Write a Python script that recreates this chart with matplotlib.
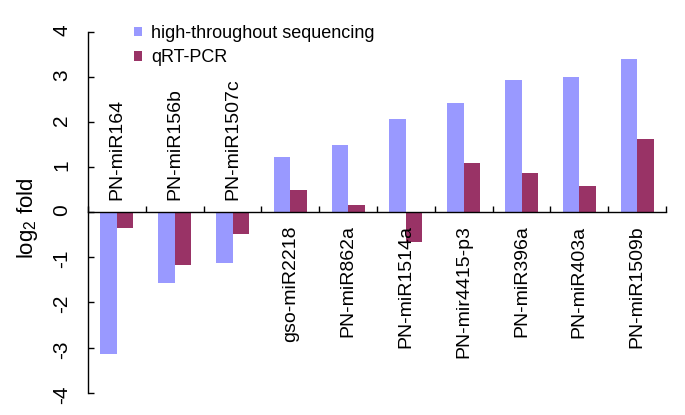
import matplotlib
matplotlib.use("Agg")
import matplotlib.pyplot as plt
import numpy as np

plt.rcParams['font.family'] = ['Liberation Sans', 'DejaVu Sans']
plt.rcParams['mathtext.fontset'] = 'custom'
plt.rcParams['mathtext.rm'] = 'Liberation Sans'
plt.rcParams['mathtext.default'] = 'regular'

mirnas = ["PN-miR164", "PN-miR156b", "PN-miR1507c", "gso-miR2218", "PN-miR862a",
          "PN-miR1514a", "PN-mir4415-p3", "PN-miR396a", "PN-miR403a", "PN-miR1509b"]
seq_vals = [-3.14, -1.58, -1.13, 1.23, 1.49, 2.07, 2.41, 2.92, 2.99, 3.39]
qpcr_vals = [-0.36, -1.18, -0.49, 0.49, 0.15, -0.67, 1.10, 0.86, 0.59, 1.63]
series_names = ["high-throughout sequencing", "qRT-PCR"]
yticks = [-4, -3, -2, -1, 0, 1, 2, 3, 4]

blue = "#9999FF"
red = "#993366"

fig = plt.figure(figsize=(6.85, 4.15), dpi=100)
W, H = 685, 415
ax = fig.add_axes([88 / W, 1 - 392.7 / H, (666 - 88) / W, (392.7 - 31.7) / H])

x = np.arange(len(mirnas)) + 0.5
bw = 0.285
ax.bar(x - bw / 2, seq_vals, width=bw, color=blue, label=series_names[0])
ax.bar(x + bw / 2, qpcr_vals, width=bw, color=red, label=series_names[1])

ax.set_xlim(0, len(mirnas))
ax.set_ylim(-4, 4)

ax.spines['top'].set_visible(False)
ax.spines['right'].set_visible(False)
ax.spines['bottom'].set_position(('data', 0))
for s in ['left', 'bottom']:
    ax.spines[s].set_linewidth(1.0)
    ax.spines[s].set_color('black')

ax.set_xticks(np.arange(len(mirnas) + 1))
ax.set_xticklabels([])
ax.tick_params(axis='x', direction='in', length=4, width=1)
ax.set_yticks(yticks)
ax.set_yticklabels([str(v) for v in yticks])
ax.tick_params(axis='y', direction='in', length=4, width=1, labelsize=15,
               labelrotation=90, pad=12)

# labels sit above the axis for down-regulated, below for up-regulated
for xi, name, v in zip(x, mirnas, seq_vals):
    if v < 0:
        ax.annotate(name, (xi, 0), xytext=(0, 9), textcoords='offset points',
                    rotation=90, ha='center', va='bottom', fontsize=14)
    else:
        ax.annotate(name, (xi, 0), xytext=(0, -9.5), textcoords='offset points',
                    rotation=90, ha='center', va='top', fontsize=14)

fig.text(27 / W, 1 - 218 / H, "log$_2$ fold", rotation=90, ha='center', va='center',
         fontsize=16)

ax.legend(loc='upper left', bbox_to_anchor=(134 / W, 1 - 25 / H),
          bbox_transform=fig.transFigure, frameon=False, fontsize=13,
          handlelength=0.45, handleheight=0.45, handletextpad=0.5,
          labelspacing=0.4, borderpad=0, borderaxespad=0)

fig.savefig("out.png", dpi=100)
